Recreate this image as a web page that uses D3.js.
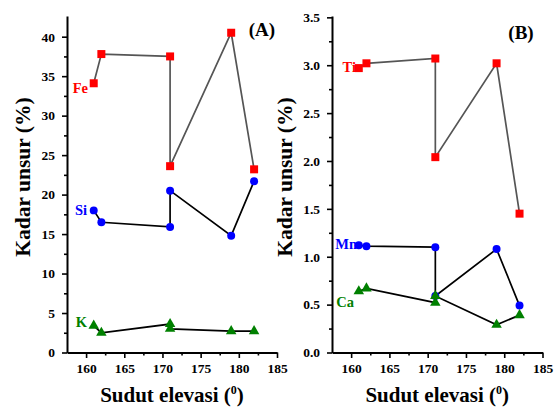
<!DOCTYPE html>
<html lang="en">
<head>
    <meta charset="UTF-8">
    <title>Kadar unsur vs sudut elevasi</title>
    <script src="https://cdnjs.cloudflare.com/ajax/libs/d3/7.8.5/d3.min.js"></script>
    <style>
        body {
            margin: 0;
            background: #fff;
        }
        svg text {
            font-family: "Liberation Serif", "Times New Roman", serif;
            font-weight: bold;
        }
        .axis path, .axis line {
            stroke: #000;
        }
        .axis path {
            stroke-width: 2;
        }
        .axis line {
            stroke-width: 1.6;
        }
    </style>
</head>
<body>
    <svg id="svg" width="555" height="407"></svg>

    <script>
        // data
        const elev = [161, 162, 171, 171, 179, 182];

        // panel A
        const fe = [34.1, 37.8, 37.5, 23.6, 40.5, 23.2];
        const si = [18.0, 16.5, 15.9, 20.5, 14.8, 21.7];
        const k  = [3.4, 2.5, 3.6, 3.0, 2.7, 2.7];

        // panel B
        const ti = [2.97, 3.02, 3.07, 2.04, 3.02, 1.45];
        const mn = [1.12, 1.11, 1.10, 0.59, 1.08, 0.49];
        const ca = [0.64, 0.67, 0.52, 0.59, 0.29, 0.39];

        const xTicks = [160, 165, 170, 175, 180, 185];
        const yTicksA = [0, 5, 10, 15, 20, 25, 30, 35, 40];
        const yTicksB = [0, 0.5, 1.0, 1.5, 2.0, 2.5, 3.0, 3.5];

        const svg = d3.select("#svg");
        svg.append("rect").attr("width", 555).attr("height", 407).attr("fill", "#fff");

        const RED = "#ff0000", BLUE = "#0000ff", GREEN = "#008000";

        function panel(opts) {
            const x = d3.scaleLinear().domain([157.5, 185]).range(opts.xRange);
            const y = d3.scaleLinear().domain(opts.yDomain).range([352.5, 16]);
            const g = svg.append("g");

            // minor ticks
            const minorX = d3.range(162.5, 185, 5);
            g.append("g")
                .attr("class", "axis")
                .attr("transform", `translate(0,352.5)`)
                .call(d3.axisBottom(x).tickValues(minorX).tickSize(3).tickFormat(""))
                .select(".domain").remove();
            g.append("g")
                .attr("class", "axis")
                .attr("transform", `translate(${opts.xRange[0]},0)`)
                .call(d3.axisLeft(y).tickValues(opts.yMinor).tickSize(3).tickFormat(""))
                .select(".domain").remove();

            // main axes
            const xa = g.append("g")
                .attr("class", "axis")
                .attr("transform", `translate(0,352.5)`)
                .call(d3.axisBottom(x).tickValues(xTicks).tickSize(5.5).tickSizeOuter(0).tickPadding(5));
            const ya = g.append("g")
                .attr("class", "axis")
                .attr("transform", `translate(${opts.xRange[0]},0)`)
                .call(d3.axisLeft(y).tickValues(opts.yTicks).tickSize(5).tickSizeOuter(0)
                    .tickPadding(7).tickFormat(opts.fmt));
            [xa, ya].forEach(a => a.selectAll("text")
                .attr("font-size", 13.5).attr("fill", "#000")
                .style("font-family", "'Liberation Serif', serif").style("font-weight", "bold"));

            // titles
            const cx = (opts.xRange[0] + opts.xRange[1]) / 2;
            const xt = g.append("text")
                .attr("x", cx).attr("y", 402)
                .attr("text-anchor", "middle").attr("font-size", 21)
                .text("Sudut elevasi (");
            xt.append("tspan").attr("font-size", 12).attr("dy", -8).text("0");
            xt.append("tspan").attr("dy", 8).text(")");

            g.append("text")
                .attr("transform", `translate(${opts.yTitleX},177) rotate(-90)`)
                .attr("text-anchor", "middle").attr("font-size", 21.5)
                .text("Kadar unsur (%)");

            const line = d3.line().x(d => x(d[0])).y(d => y(d[1]));

            opts.series.forEach(s => {
                g.append("path")
                    .datum(elev.map((e, i) => [e, s.values[i]]))
                    .attr("d", line)
                    .attr("fill", "none")
                    .attr("stroke", s.lineColor)
                    .attr("stroke-width", 1.7);
            });

            opts.series.forEach(s => {
                g.selectAll(null)
                    .data(elev.map((e, i) => [e, s.values[i]]))
                    .enter()
                    .append("path")
                    .attr("transform", d => `translate(${x(d[0])},${y(d[1])})`)
                    .attr("d", d3.symbol().type(s.symbol).size(s.size))
                    .attr("fill", s.color);

                g.append("text")
                    .attr("x", s.labelPos[0]).attr("y", s.labelPos[1])
                    .attr("text-anchor", "end")
                    .attr("font-size", 14.5)
                    .attr("fill", s.color)
                    .text(s.name);
            });

            g.append("text")
                .attr("x", opts.tagPos[0]).attr("y", opts.tagPos[1])
                .attr("text-anchor", "middle").attr("font-size", 19)
                .text(opts.tag);
        }

        panel({
            xRange: [67, 277],
            yDomain: [0, 42.62],
            yTicks: yTicksA,
            yMinor: d3.range(2.5, 42.5, 5),
            fmt: d3.format("d"),
            yTitleX: 30,
            tag: "(A)",
            tagPos: [262, 36],
            series: [
                { name: "Fe", values: fe, color: RED, lineColor: "#555", symbol: d3.symbolSquare, size: 64, labelPos: [88, 92.5] },
                { name: "Si", values: si, color: BLUE, lineColor: "#000", symbol: d3.symbolCircle, size: 50, labelPos: [87, 214.5] },
                { name: "K", values: k, color: GREEN, lineColor: "#000", symbol: d3.symbolTriangle, size: 48, labelPos: [87, 327] }
            ]
        });

        panel({
            xRange: [332, 542.5],
            yDomain: [0, 3.514],
            yTicks: yTicksB,
            yMinor: d3.range(0.25, 3.5, 0.5),
            fmt: d3.format(".1f"),
            yTitleX: 292,
            tag: "(B)",
            tagPos: [521, 39],
            series: [
                { name: "Ti", values: ti, color: RED, lineColor: "#555", symbol: d3.symbolSquare, size: 64, labelPos: [356, 71.5] },
                { name: "Mn", values: mn, color: BLUE, lineColor: "#000", symbol: d3.symbolCircle, size: 50, labelPos: [357, 248.5] },
                { name: "Ca", values: ca, color: GREEN, lineColor: "#000", symbol: d3.symbolTriangle, size: 48, labelPos: [354, 307] }
            ]
        });
    </script>
</body>
</html>
